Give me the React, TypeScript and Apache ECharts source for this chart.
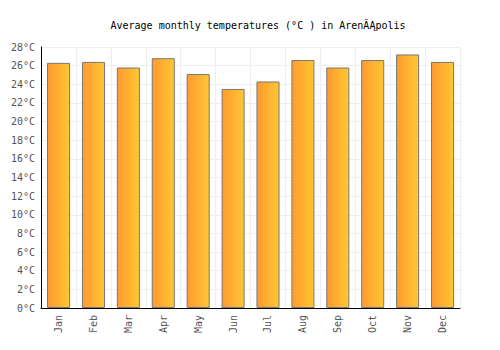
import React, { useEffect, useRef } from "react";
import * as echarts from "echarts";

const months = ["Jan", "Feb", "Mar", "Apr", "May", "Jun", "Jul", "Aug", "Sep", "Oct", "Nov", "Dec"];
const temps = [26.3, 26.4, 25.8, 26.8, 25.1, 23.5, 24.3, 26.6, 25.8, 26.6, 27.2, 26.4];
const titleText = "Average monthly temperatures (°C ) in ArenĂĄpolis";

export default function App() {
  const ref = useRef<HTMLDivElement>(null);
  useEffect(() => {
    const chart = echarts.init(ref.current!, undefined, { renderer: "svg" });
    const font = "'DejaVu Sans Mono', monospace";
    chart.setOption({
      animation: false,
      title: {
        text: titleText,
        left: "center",
        top: 7,
        textStyle: { fontFamily: font, fontSize: 10, fontWeight: "normal", color: "#000" },
      },
      grid: { left: 32, right: 48, top: 39, bottom: 50, containLabel: false },
      xAxis: {
        type: "category",
        data: months,
        axisLine: { lineStyle: { color: "#000", width: 1 } },
        axisTick: { show: false },
        axisLabel: { rotate: 90, fontFamily: font, fontSize: 10, color: "#555", margin: 7 },
        splitLine: { show: true, lineStyle: { color: "#eee" } },
        boundaryGap: true,
      },
      yAxis: {
        type: "value",
        min: 0,
        max: 28,
        interval: 2,
        axisLine: { show: true, lineStyle: { color: "#000", width: 1 } },
        axisTick: { show: false },
        axisLabel: { formatter: "{value}°C", fontFamily: font, fontSize: 10, color: "#555", margin: 6 },
        splitLine: { show: true, lineStyle: { color: "#eee" } },
      },
      series: [
        {
          type: "bar",
          data: temps,
          barWidth: "66%",
          itemStyle: {
            color: new echarts.graphic.LinearGradient(0, 0, 1, 0, [
              { offset: 0, color: "#ff9a30" },
              { offset: 1, color: "#ffc733" },
            ]),
            borderColor: "#777",
            borderWidth: 1,
          },
        },
      ],
    });
    return () => chart.dispose();
  }, []);
  return <div ref={ref} style={{ width: 500, height: 350 }} />;
}
